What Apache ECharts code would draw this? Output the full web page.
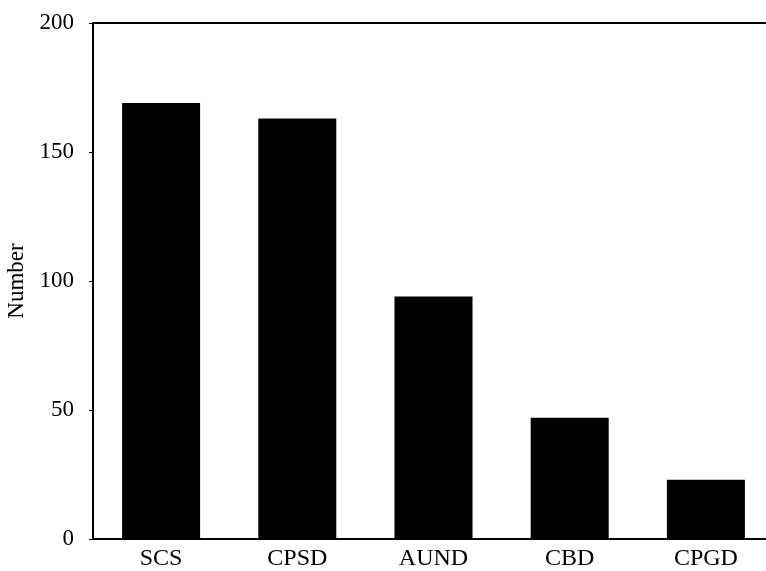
<!DOCTYPE html>
<html><head><meta charset="utf-8">
<script src="https://cdn.jsdelivr.net/npm/echarts@6/dist/echarts.min.js"></script>
<style>html,body{margin:0;padding:0;background:#fff}#c{width:766px;height:571px}</style>
</head><body><div id="c"></div>
<script>
const categories = ['SCS', 'CPSD', 'AUND', 'CBD', 'CPGD'];
const values = [169, 163, 94, 47, 23];
const yTicks = [0, 50, 100, 150, 200];

const font = '"Liberation Serif", "DejaVu Serif", serif';
const chart = echarts.init(document.getElementById('c'));
chart.setOption({
  animation: false,
  backgroundColor: '#fff',
  grid: { left: 93, width: 681, top: 23, height: 516, containLabel: false, outerBoundsMode: 'none' },
  xAxis: [{
    type: 'category', data: categories, position: 'bottom',
    axisLine: { lineStyle: { color: '#000', width: 2 } },
    axisTick: { show: false },
    axisLabel: { color: '#000', fontFamily: font, fontSize: 24, margin: 8 }
  }, {
    type: 'category', data: categories, position: 'top',
    axisLine: { lineStyle: { color: '#000', width: 2 } },
    axisTick: { show: false }, axisLabel: { show: false }
  }],
  yAxis: {
    type: 'value', min: yTicks[0], max: yTicks[yTicks.length - 1], interval: 50,
    name: 'Number', nameLocation: 'middle', nameGap: 64, nameRotate: 90,
    nameTextStyle: { color: '#000', fontFamily: font, fontSize: 23 },
    axisLine: { show: true, lineStyle: { color: '#000', width: 2 } },
    axisTick: { show: true, length: 4, lineStyle: { color: '#000' } },
    splitLine: { show: false },
    axisLabel: { color: '#000', fontFamily: font, fontSize: 23, margin: 19 }
  },
  series: [{
    type: 'bar', data: values, barWidth: 78,
    itemStyle: { color: '#000' }
  }]
});
</script></body></html>
